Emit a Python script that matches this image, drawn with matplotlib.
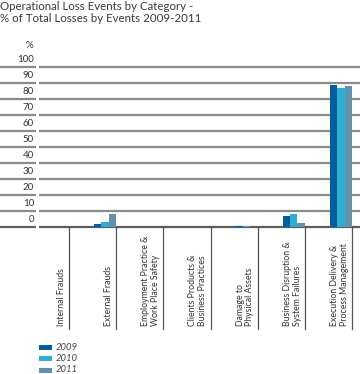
import matplotlib
matplotlib.use("Agg")
import matplotlib.pyplot as plt
from matplotlib.transforms import blended_transform_factory
from matplotlib.patches import Rectangle
import numpy as np

plt.rcParams['font.family'] = ['Lato', 'DejaVu Sans']

title = "Operational Loss Events by Category -\n% of Total Losses by Events 2009-2011"
categories = ["Internal Frauds", "External Frauds", "Employment Practice &\nWork Place Safety",
              "Clients Products &\nBusiness Practices", "Damage to\nPhysical Assets",
              "Business Disruption &\nSystem Failures", "Execution Delivery &\nProcess Management"]
years = ["2009", "2010", "2011"]
v2009 = [0, 2.1, 0, 0, 0.7, 6.9, 89.0]
v2010 = [0, 3.1, 0, 0, 0.7, 8.2, 87.0]
v2011 = [0, 8.0, 0, 0, 0.3, 2.7, 88.0]
yticks = [0, 10, 20, 30, 40, 50, 60, 70, 80, 90, 100]
colors = ["#045e9d", "#2cafd6", "#6291a9"]

W, H = 361, 374
fig = plt.figure(figsize=(W / 100, H / 100), dpi=100)

def fx(px):
    return px / W

def fy(py):
    return 1 - py / H

ax_left, ax_right, ax_bottom, ax_top = 39, 360, 227, 67
ax = fig.add_axes([fx(ax_left), fy(ax_bottom), fx(ax_right - ax_left), (ax_bottom - ax_top) / H])
cat_w = 47.2
x0 = 1 + (ax_left - 69) / cat_w
x1 = 1 + (ax_right - 69) / cat_w
ax.set_xlim(x0, x1)
ax.set_ylim(0, 100)
ax.set_autoscale_on(False)
ax.axis('off')

# gridlines
grid_col = "#8a8a8a"
trans_fig_data = blended_transform_factory(fig.transFigure, ax.transData)
for t in yticks:
    col = "#5e5e5e" if t == 0 else grid_col
    ax.axhline(t, color=col, lw=1.6, zorder=1, clip_on=False, solid_capstyle='butt')
    ax.plot([0, fx(36)], [t, t], transform=trans_fig_data, color=col, lw=1.6,
            clip_on=False, solid_capstyle='butt')
    ax.text(fx(34), t + 1.6, str(t), transform=trans_fig_data, ha='right', va='bottom',
            fontsize=7, color="#333333")

fig.text(fx(29), fy(45), "%", ha='center', va='center', fontsize=7, color="#333333")

# bars
bw = 0.158
series = [v2009, v2010, v2011]
idx = np.arange(len(categories))
for j, (vals, c) in enumerate(zip(series, colors)):
    ax.bar(idx + 0.525 + bw / 2 + j * bw, vals, width=bw, color=c, zorder=2, linewidth=0)

# separators and labels
trans_data_axes = blended_transform_factory(ax.transData, ax.transAxes)
ybot = (ax_bottom - 329) / (ax_bottom - ax_top)
ylab = (ax_bottom - 326) / (ax_bottom - ax_top)
for k in range(1, len(categories) + 1):
    ax.plot([k, k], [0, ybot], transform=trans_data_axes, color="#555555", lw=0.9, clip_on=False)
for i, cat in enumerate(categories):
    ax.text(i + 1 - 3.5 / cat_w, ylab, cat, transform=trans_data_axes, rotation=90,
            rotation_mode='anchor', ha='left', va='bottom', multialignment='left',
            fontsize=6.3, color="#333333", linespacing=1.1)

# title
fig.text(0, 1 - 1 / H, title, ha='left', va='top', fontsize=8.3, color="#3a3a3a", linespacing=1.15)

# legend
tops = [344.5, 356, 367.5]
for yr, c, t in zip(years, colors, tops):
    fig.add_artist(Rectangle((fx(39), fy(t + 5)), fx(13), 5 / H, transform=fig.transFigure,
                             color=c, lw=0))
    fig.text(fx(56), fy(t + 2.5), yr, ha='left', va='center', fontsize=6.8, style='italic',
             color="#444444")

fig.savefig("out.png", dpi=100)
